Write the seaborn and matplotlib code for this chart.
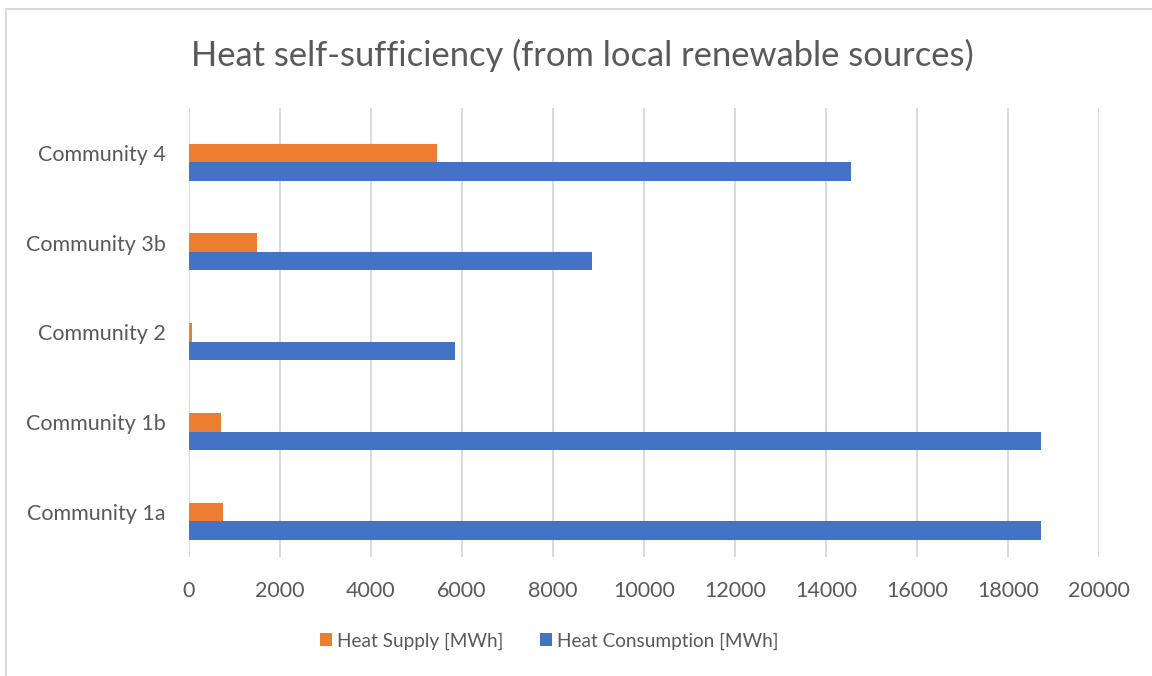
import matplotlib
matplotlib.use("Agg")
import matplotlib.pyplot as plt
import seaborn as sns
import pandas as pd
from matplotlib.lines import Line2D
from matplotlib.patches import Patch

# ---- data ----
communities = ["Community 4", "Community 3b", "Community 2", "Community 1b", "Community 1a"]
heat_supply = [5460, 1500, 60, 700, 750]
heat_consumption = [14560, 8850, 5850, 18730, 18730]
series_names = ["Heat Supply [MWh]", "Heat Consumption [MWh]"]
series_colors = ["#ED7D31", "#4472C4"]
x_ticks = list(range(0, 20001, 2000))
title = "Heat self-sufficiency (from local renewable sources)"

df = pd.DataFrame({
    "Community": communities * 2,
    "Series": [series_names[0]] * len(communities) + [series_names[1]] * len(communities),
    "Value": heat_supply + heat_consumption,
})

sns.set_theme(style="white")
plt.rcParams["font.family"] = ["Lato", "DejaVu Sans"]

W, H = 1152, 676
fig = plt.figure(figsize=(W / 100, H / 100), dpi=100)
ax = fig.add_axes([189 / W, 1 - 557 / H, (1099 - 189) / W, (557 - 108) / H])

bar_w = 0.205
sns.barplot(data=df, y="Community", x="Value", hue="Series", order=communities,
            hue_order=series_names, palette=series_colors, orient="h",
            width=2 * bar_w, dodge=True, ax=ax, legend=False, saturation=1,
            linewidth=0)

# shift so the supply bar is centred on the category, consumption just below
for p in ax.patches:
    p.set_y(p.get_y() + bar_w / 2)

ax.set_xlim(0, 20000)
ax.set_ylim(len(communities) - 0.5, -0.5)
ax.set_xticks(x_ticks)
ax.set_xticklabels([str(t) for t in x_ticks])
ax.set_xlabel("")
ax.set_ylabel("")
ax.grid(axis="x", color="#D9D9D9", linewidth=1.4)
ax.grid(axis="y", visible=False)
ax.set_axisbelow(True)
for s in ax.spines.values():
    s.set_visible(False)
ax.tick_params(axis="x", length=0, pad=17, labelsize=15.5, labelcolor="#595959")
ax.tick_params(axis="y", length=0, pad=17, labelsize=15.5, labelcolor="#595959")

fig.text(582.5 / W, 1 - 55 / H, title, ha="center", va="center",
         fontsize=24.8, color="#595959")

handles = [Patch(facecolor=c, edgecolor="none") for c in series_colors]
fig.legend(handles, series_names, loc="center", bbox_to_anchor=(549 / W, 1 - 641 / H),
           ncol=2, frameon=False, fontsize=13.7, labelcolor="#595959",
           handlelength=0.63, handleheight=0.63, handletextpad=0.26,
           columnspacing=1.95, borderpad=0)

# chart frame
fig.add_artist(Line2D([5.5 / W, 1], [1 - 8.5 / H, 1 - 8.5 / H], color="#D9D9D9", linewidth=1.5))
fig.add_artist(Line2D([5.5 / W, 5.5 / W], [0, 1 - 8.5 / H], color="#D9D9D9", linewidth=1.5))

fig.savefig("out.png", dpi=100, facecolor="white")
